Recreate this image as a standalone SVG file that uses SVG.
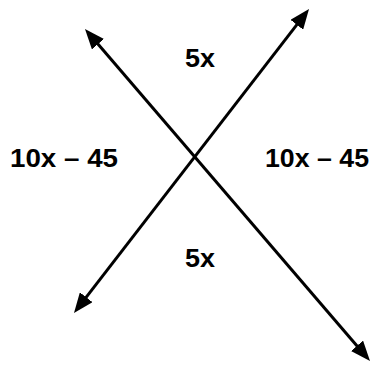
<svg xmlns="http://www.w3.org/2000/svg" width="374" height="367" viewBox="0 0 374 367">
<defs>
<style>
.ln{stroke:#000;stroke-width:3;fill:none;marker-start:url(#ah);marker-end:url(#ah)}
.lb{font-family:"Liberation Sans",Arial,sans-serif;font-weight:bold;font-size:25px;fill:#000}
</style>
<marker id="ah" viewBox="0 0 20 16" markerWidth="20" markerHeight="16" markerUnits="userSpaceOnUse" refX="10" refY="8" orient="auto-start-reverse">
<path d="M0,0 L20,8 L0,16 z" fill="#000"/>
</marker>
</defs>
<rect width="374" height="367" fill="#fff"/>
<g id="connectors">
<line class="ln" x1="91.5" y1="36.6" x2="363.5" y2="353.4"/>
<line class="ln" x1="80.1" y1="305.1" x2="302.9" y2="16.9"/>
</g>
<g id="label-left"><text class="lb" x="10" y="167" textLength="108" lengthAdjust="spacingAndGlyphs">10x – 45</text></g>
<g id="label-right"><text class="lb" x="265" y="167" textLength="104" lengthAdjust="spacingAndGlyphs">10x – 45</text></g>
<g id="label-top"><text class="lb" x="185" y="67" textLength="30" lengthAdjust="spacingAndGlyphs">5x</text></g>
<g id="label-bottom"><text class="lb" x="185" y="267" textLength="30" lengthAdjust="spacingAndGlyphs">5x</text></g>
</svg>
